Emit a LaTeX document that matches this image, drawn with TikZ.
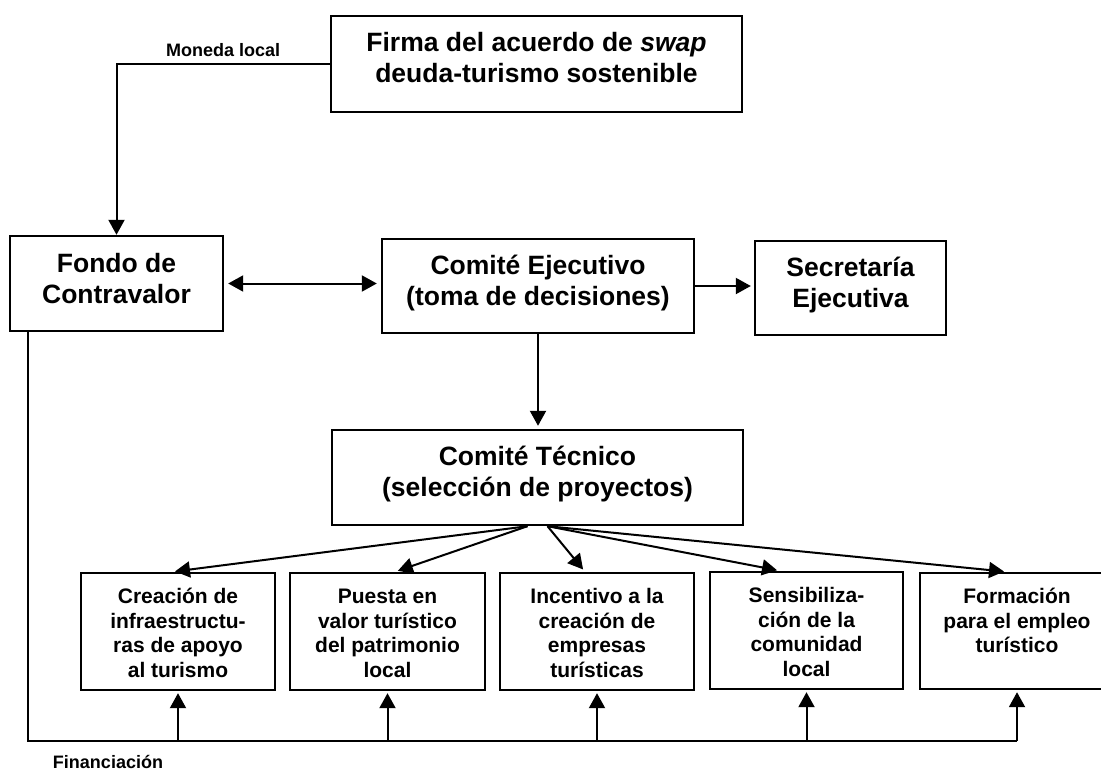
\documentclass[tikz,border=0pt]{standalone}
\usepackage{fontspec}
\setmainfont{Liberation Sans}
\usetikzlibrary{arrows.meta,fit,calc}
\begin{document}
\begin{tikzpicture}[x=0.5pt,y=-0.5pt,
  box/.style={draw, line width=1.2pt, inner sep=0pt},
  bigtxt/.style={font=\fontsize{13.25}{15.5}\selectfont\bfseries, align=center, inner sep=0pt, anchor=north},
  smalltxt/.style={font=\fontsize{10.5}{12.25}\selectfont\bfseries, align=center, inner sep=0pt, anchor=north},
  lbl/.style={font=\fontsize{9}{10}\selectfont\bfseries, inner sep=0pt},
  conn/.style={line width=1pt},
  arr/.style={conn, -{Triangle[length=7.5pt,width=8pt]}},
]
\useasboundingbox (0,0) rectangle (1101,770);

% boxes
\node[box, fit={(331,16)(742,112)}] (firma) {};
\node[box, fit={(10,236)(223,331)}] (fondo) {};
\node[box, fit={(382,239)(694,333)}] (ce) {};
\node[box, fit={(755,241)(946,335)}] (sec) {};
\node[box, fit={(332,430)(743,525)}] (ct) {};
\node[box, fit={(81,573)(275,690)}] (b1) {};
\node[box, fit={(290,573)(485,690)}] (b2) {};
\node[box, fit={(500,573)(694,690)}] (b3) {};
\node[box, fit={(710,572)(903,689)}] (b4) {};
\node[box, fit={(920,573)(1114,689)}] (b5) {};

% texts
\node[bigtxt] (firmaT) at ([yshift=-5pt]firma.north) {\rule{0pt}{1em}Firma del acuerdo de \textit{swap}\\deuda-turismo sostenible};
\node[bigtxt] (fondoT) at ([yshift=-5.5pt]fondo.north) {\rule{0pt}{1em}Fondo de\\Contravalor};
\node[bigtxt] (ceT) at ([yshift=-5pt]ce.north) {\rule{0pt}{1em}Comité Ejecutivo\\(toma de decisiones)};
\node[bigtxt] (secT) at ([yshift=-5pt]sec.north) {\rule{0pt}{1em}Secretaría\\Ejecutiva};
\node[bigtxt] (ctT) at ([yshift=-5pt]ct.north) {\rule{0pt}{1em}Comité Técnico\\(selección de proyectos)};
\node[smalltxt] (b1T) at ([yshift=-5.2pt]b1.north) {\rule{0pt}{1em}Creación de\\infraestructu-\\ras de apoyo\\al turismo};
\node[smalltxt] (b2T) at ([yshift=-5.2pt]b2.north) {\rule{0pt}{1em}Puesta en\\valor turístico\\del patrimonio\\local};
\node[smalltxt] (b3T) at ([yshift=-5.2pt]b3.north) {\rule{0pt}{1em}Incentivo a la\\creación de\\empresas\\turísticas};
\node[smalltxt] (b4T) at ([yshift=-5.2pt]b4.north) {\rule{0pt}{1em}Sensibiliza-\\ción de la\\comunidad\\local};
\node[smalltxt] (b5T) at ([yshift=-5.2pt]b5.north) {\rule{0pt}{1em}Formación\\para el empleo\\turístico};

% connectors
\draw[arr] (firma.west) -| (fondo.north) node[lbl, pos=0.25, above=3pt] (moneda) {Moneda local};
\draw[conn, {Triangle[length=7.5pt,width=8pt]}-{Triangle[length=7.5pt,width=8pt]}, shorten <=2pt, shorten >=2pt] (fondo.east) -- (fondo.east -| ce.west);
\draw[arr, shorten >=1.5pt] (ce.east) -- (ce.east -| sec.west);
\draw[arr, shorten >=1.5pt] (ce.south) -- (ce.south |- ct.north);

\coordinate (fanL) at ($(ct.south)+(-10,0)$);
\coordinate (fanR) at ($(ct.south)+(10,0)$);
\draw[arr, shorten >=1.5pt] (fanL) -- ($(b1.north)+(-6,0)$);
\draw[arr, shorten >=1.5pt] (fanL) -- ($(b2.north)+(7.5,0)$);
\draw[arr, shorten >=1.5pt] (fanR) -- ($(b3.north)+(-12,0)$);
\draw[arr, shorten >=1.5pt] (fanR) -- ($(b4.north)+(-26.5,0)$);
\draw[arr, shorten >=1.5pt] (fanR) -- ($(b5.north)+(-10,0)$);

\coordinate (bus0) at ($(fondo.south west)+(19,0)$);
\coordinate (busY) at (0,741);
\draw[conn] (bus0) |- (b5.south |- busY);
\foreach \b in {b1,b2,b3,b4,b5}
  \draw[arr, shorten >=1pt] (\b.south |- busY) -- (\b.south);

\node[lbl] (fin) at (108,762) {Financiación};
\end{tikzpicture}
\end{document}
